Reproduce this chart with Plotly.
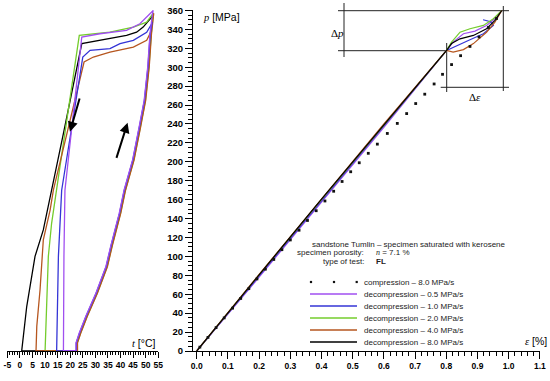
import plotly.graph_objects as go

W, H = 550, 381

# ---------------- data ----------------
series_names = ["decompression – 0.5 MPa/s", "decompression – 1.0 MPa/s",
                "decompression – 2.0 MPa/s", "decompression – 4.0 MPa/s",
                "decompression – 8.0 MPa/s"]
series_colors = ["#a04ff0", "#3434d6", "#74cc2c", "#b6561f", "#000000"]

t_tick_vals = [-5, 0, 5, 10, 15, 20, 25, 30, 35, 40, 45, 50, 55]
t_tick_text = ["-5", "0", "5", "10", "15", "20", "25", "30", "35", "40", "45", "50", "55"]

# left panel: temperature t [°C] vs pressure p [MPa]
t_05 = [22.3, 22.3, 23.6, 26.2, 30.2, 34.2, 36.2, 37.5, 39.5, 41.4, 44.8, 47.4, 49.4, 50.8, 51.7, 52.7, 53.0,
        47.7, 42.4, 31.8, 24.6, 21.2, 17.9, 17.5, 17.4, 17.3, 22.0]
p_05 = [0, 8.6, 19, 36.7, 61, 89.4, 112, 124.6, 145.7, 170, 202, 237, 265, 300, 335, 356.5, 360,
        346, 339, 335.4, 331.9, 250, 170, 100, 50, 0, 0.5]

t_10 = [22.4, 22.4, 23.7, 26.3, 30.3, 34.3, 36.3, 37.6, 39.6, 41.5, 44.9, 47.5, 49.5, 50.9, 51.8, 52.6,
        52.4, 50.4, 45.1, 39.8, 35.8, 27.9, 25.0, 20.8, 16.6, 15.3, 14.8, 14.6, 22.0]
p_10 = [0, 8.6, 19, 36.7, 61, 89.4, 112, 124.6, 145.7, 170, 202, 237, 265, 300, 335, 348,
        345.9, 337, 328.4, 325, 319.6, 317.8, 310.8, 240, 170, 100, 30, 0, 0.5]

t_20 = [22.8, 22.8, 24.1, 26.7, 30.7, 34.7, 36.7, 38.0, 40.0, 41.9, 45.3, 47.9, 49.9, 51.3, 52.2, 53.1,
        50.4, 45.1, 35.8, 23.6, 19.0, 14.4, 12.6, 11.3, 10.4, 10.0, 22.0]
p_20 = [0, 8.6, 19, 36.7, 61, 89.4, 112, 124.6, 145.7, 170, 202, 237, 265, 300, 335, 357.5,
        347.7, 342.4, 337, 333.6, 252, 170, 135, 100, 29.7, 0, 0.5]

t_40 = [22.9, 22.9, 24.2, 26.8, 30.8, 34.8, 36.8, 38.1, 40.1, 42.0, 45.4, 48.0, 50.0, 51.4, 52.3, 53.2,
        52.4, 50.4, 45.1, 35.8, 29.2, 25.5, 18.7, 13.3, 12.0, 9.3, 8.0, 6.7, 6.4, 22.0]
p_40 = [0, 8.6, 19, 36.7, 61, 89.4, 112, 124.6, 145.7, 170, 202, 237, 265, 300, 335, 357,
        339, 328.4, 321.3, 316, 310.8, 305.5, 230, 170, 149, 117.5, 64.8, 26, 0, 0.5]

t_80 = [22.6, 22.6, 23.9, 26.5, 30.5, 34.5, 36.5, 37.8, 39.8, 41.7, 45.1, 47.7, 49.7, 51.1, 52.0, 52.9,
        52.4, 49.0, 46.4, 42.4, 31.8, 24.6, 17.3, 12.6, 9.3, 6.0, 2.7, 0.7, 22.0]
p_80 = [0, 8.6, 19, 36.7, 61, 89.4, 112, 124.6, 145.7, 170, 202, 237, 265, 300, 335, 356,
        353, 342.4, 337, 333.6, 328.4, 325, 230, 170, 128, 100, 47, 0, 0.5]

# right panel: strain e [%] vs pressure p [MPa]
e_05 = [0.978, 0.962, 0.929, 0.892, 0.855, 0.822, 0.801, 0.600, 0.400, 0.200, 0.0]
q_05 = [360, 353, 344.2, 338.2, 335.4, 326.6, 317.8, 236.5, 157.5, 78, 0]

e_10 = [0.918, 0.942, 0.951, 0.919, 0.876, 0.833, 0.801, 0.600, 0.400, 0.200, 0.0]
q_10 = [350.2, 348.1, 344.2, 335.4, 329.1, 323.1, 317.8, 238, 159, 79.5, 0]

e_20 = [0.978, 0.951, 0.919, 0.876, 0.844, 0.817, 0.801, 0.600, 0.400, 0.200, 0.0]
q_20 = [360, 351.3, 344.2, 340.7, 337, 326.6, 317.8, 239, 160, 80.5, 0]

e_40 = [0.978, 0.956, 0.929, 0.887, 0.855, 0.822, 0.801, 0.600, 0.400, 0.200, 0.0]
q_40 = [360, 347.7, 337, 325, 318.6, 316, 317.8, 240, 160.5, 81, 0]

e_80 = [0.978, 0.956, 0.929, 0.887, 0.844, 0.817, 0.801, 0.600, 0.400, 0.200, 0.0]
q_80 = [360, 349.5, 340.7, 333.6, 330, 325, 317.8, 239.5, 160.5, 80.5, 0]

# compression 8.0 MPa/s (dots)
e_comp = [0.010, 0.036, 0.062, 0.088, 0.115, 0.141, 0.167, 0.193, 0.220, 0.247, 0.273, 0.300,
          0.328, 0.355, 0.383, 0.411, 0.439, 0.466, 0.4936, 0.521, 0.550, 0.579, 0.611, 0.643,
          0.673, 0.702, 0.731, 0.761, 0.788, 0.817, 0.846, 0.876, 0.905, 0.935, 0.961]
p_comp = [4.1, 14.4, 24.7, 35, 45.3, 55.6, 65.9, 76.2, 86.5, 96.8, 107.1, 117.4,
          127.7, 138, 148.3, 158.6, 168.9, 179.2, 189.5, 199, 209, 218.7, 230, 240.6,
          251, 261.6, 271.5, 282.3, 292.5, 302.8, 312.2, 322, 332, 342, 351.5]

left_t = [t_05, t_10, t_20, t_40, t_80]
left_p = [p_05, p_10, p_20, p_40, p_80]
right_e = [e_05, e_10, e_20, e_40, e_80]
right_p = [q_05, q_10, q_20, q_40, q_80]

# ---------------- figure ----------------
def PX(x):
    return x / W


def PY(y):
    return 1 - y / H


fig = go.Figure()

# left panel: draw black first, violet last (violet on top as in reference)
for i in [4, 2, 3, 1, 0]:
    fig.add_trace(go.Scatter(x=left_t[i], y=left_p[i], xaxis="x2", yaxis="y", mode="lines",
                             line=dict(color=series_colors[i], width=1.3), showlegend=False,
                             hoverinfo="skip"))
for i in range(5):
    fig.add_trace(go.Scatter(x=right_e[i], y=right_p[i], xaxis="x", yaxis="y", mode="lines",
                             line=dict(color=series_colors[i], width=1.2), showlegend=False,
                             name=series_names[i]))
fig.add_trace(go.Scatter(x=e_comp, y=p_comp, xaxis="x", yaxis="y", mode="markers",
                         marker=dict(color="#111111", size=2.8, symbol="square"),
                         showlegend=False, name="compression – 8.0 MPa/s"))

tickfont_y = dict(family="Arial", size=9.5, color="black", weight="bold")
tickfont_x = dict(family="Arial", size=8.5, color="black", weight="bold")

fig.update_layout(
    width=W, height=H,
    margin=dict(l=0, r=0, t=0, b=0),
    paper_bgcolor="white", plot_bgcolor="white",
    xaxis=dict(domain=[PX(193), PX(540)], anchor="y", range=[-0.012, 1.1005],
               tick0=0, dtick=0.1, tickformat=".1f", ticks="outside", ticklen=7,
               tickwidth=1, tickcolor="black", showline=True, linecolor="black", linewidth=1,
               showgrid=False, zeroline=False, tickfont=tickfont_x, automargin=False,
               minor=dict(tick0=0, dtick=0.02, ticks="outside", ticklen=4, tickcolor="black",
                          tickwidth=1, showgrid=False)),
    xaxis2=dict(domain=[PX(7.3), PX(158.3)], anchor="y", range=[-5.02, 55.02],
                tickmode="array", tickvals=t_tick_vals, ticktext=t_tick_text,
                ticks="outside", ticklen=6, tickwidth=1, tickcolor="black",
                showline=True, linecolor="black", linewidth=1, showgrid=False, zeroline=False,
                tickfont=tickfont_x, automargin=False,
                minor=dict(tick0=0, dtick=1, ticks="outside", ticklen=3, tickcolor="black",
                           tickwidth=1, showgrid=False)),
    yaxis=dict(domain=[PY(351), PY(10)], anchor="x", range=[0, 360.5],
               tick0=0, dtick=20, ticks="outside", ticklen=7, tickwidth=1, tickcolor="black",
               showline=True, linecolor="black", linewidth=1, showgrid=False, zeroline=False,
               tickfont=tickfont_y, automargin=False,
               minor=dict(tick0=0, dtick=5, ticks="outside", ticklen=4, tickcolor="black",
                          tickwidth=1, showgrid=False)),
)

ann = []
shapes = []
small = dict(family="Arial", size=8, color="#222222")
title_font = dict(family="Arial", size=10.5, color="black")

# axis titles
ann.append(dict(x=PX(201), y=PY(17), xref="paper", yref="paper", xanchor="left", yanchor="middle",
                text="<span style='font-family:Liberation Serif'><i>p</i></span> [MPa]",
                showarrow=False, font=title_font))
ann.append(dict(x=PX(158), y=PY(343), xref="paper", yref="paper", xanchor="right", yanchor="middle",
                text="<span style='font-family:Liberation Serif'><i>t</i></span> [°C]",
                showarrow=False, font=title_font))
ann.append(dict(x=PX(549), y=PY(341), xref="paper", yref="paper", xanchor="right", yanchor="middle",
                text="<span style='font-family:Liberation Serif'><i>ε</i></span> [%]",
                showarrow=False, font=title_font))

# info text
ann.append(dict(x=PX(310), y=PY(244), xref="paper", yref="paper", xanchor="left", yanchor="middle",
                text="sandstone Tumlin – specimen saturated with kerosene", showarrow=False, font=small))
ann.append(dict(x=PX(366), y=PY(252.5), xref="paper", yref="paper", xanchor="right", yanchor="middle",
                text="specimen porosity:", showarrow=False, font=small))
ann.append(dict(x=PX(374), y=PY(252.5), xref="paper", yref="paper", xanchor="left", yanchor="middle",
                text="<span style='font-family:Liberation Serif'><i>n</i></span> = 7.1 %",
                showarrow=False, font=small))
ann.append(dict(x=PX(366), y=PY(261), xref="paper", yref="paper", xanchor="right", yanchor="middle",
                text="type of test:", showarrow=False, font=small))
ann.append(dict(x=PX(374), y=PY(261), xref="paper", yref="paper", xanchor="left", yanchor="middle",
                text="<b>FL</b>", showarrow=False, font=small))

# manual legend
leg_y = [282, 294, 306, 318, 330, 342]
ann.append(dict(x=PX(362), y=PY(leg_y[0]), xref="paper", yref="paper", xanchor="left", yanchor="middle",
                text="compression – 8.0 MPa/s", showarrow=False, font=small))
for cx in [311, 334, 356.7]:
    shapes.append(dict(type="rect", xref="paper", yref="paper",
                       x0=PX(cx - 1.1), x1=PX(cx + 1.1), y0=PY(leg_y[0] - 1.1), y1=PY(leg_y[0] + 1.1),
                       fillcolor="#111111", line=dict(width=0)))
for i in range(5):
    yy = leg_y[i + 1]
    shapes.append(dict(type="line", xref="paper", yref="paper", x0=PX(310), x1=PX(357),
                       y0=PY(yy), y1=PY(yy), line=dict(color=series_colors[i], width=1.3)))
    ann.append(dict(x=PX(362), y=PY(yy), xref="paper", yref="paper", xanchor="left", yanchor="middle",
                    text=series_names[i], showarrow=False, font=small))

# inset construction lines (Δp, Δε)
lc = dict(color="#222222", width=1)
for x0, y0, x1, y1 in [(338, 10.7, 509, 10.7), (338, 50.7, 446.7, 50.7), (344, 3, 344, 57),
                       (446.7, 43, 446.7, 92), (503.3, 6, 503.3, 91), (440.7, 87.3, 509, 87.3)]:
    shapes.append(dict(type="line", xref="paper", yref="paper", x0=PX(x0), y0=PY(y0),
                       x1=PX(x1), y1=PY(y1), line=lc, layer="below"))
ann.append(dict(x=PX(337), y=PY(33), xref="paper", yref="paper", xanchor="center", yanchor="middle",
                text="Δ<i>p</i>", showarrow=False,
                font=dict(family="Liberation Serif", size=11, color="black")))
ann.append(dict(x=PX(475), y=PY(97), xref="paper", yref="paper", xanchor="center", yanchor="middle",
                text="Δ<i>ε</i>", showarrow=False,
                font=dict(family="Liberation Serif", size=11, color="black")))

# arrows in left panel
ann.append(dict(x=19.9, y=231.7, ax=23.9, ay=268.6, xref="x2", yref="y", axref="x2", ayref="y",
                text="", showarrow=True, arrowhead=2, arrowsize=1, arrowwidth=2, arrowcolor="black"))
ann.append(dict(x=42.8, y=241.2, ax=38.2, ay=202.6, xref="x2", yref="y", axref="x2", ayref="y",
                text="", showarrow=True, arrowhead=2, arrowsize=1, arrowwidth=2, arrowcolor="black"))

fig.update_layout(annotations=ann, shapes=shapes)

fig.write_html("out.html", config={"displayModeBar": False},
               post_script="document.body.style.margin='0';document.body.style.overflow='hidden';")
